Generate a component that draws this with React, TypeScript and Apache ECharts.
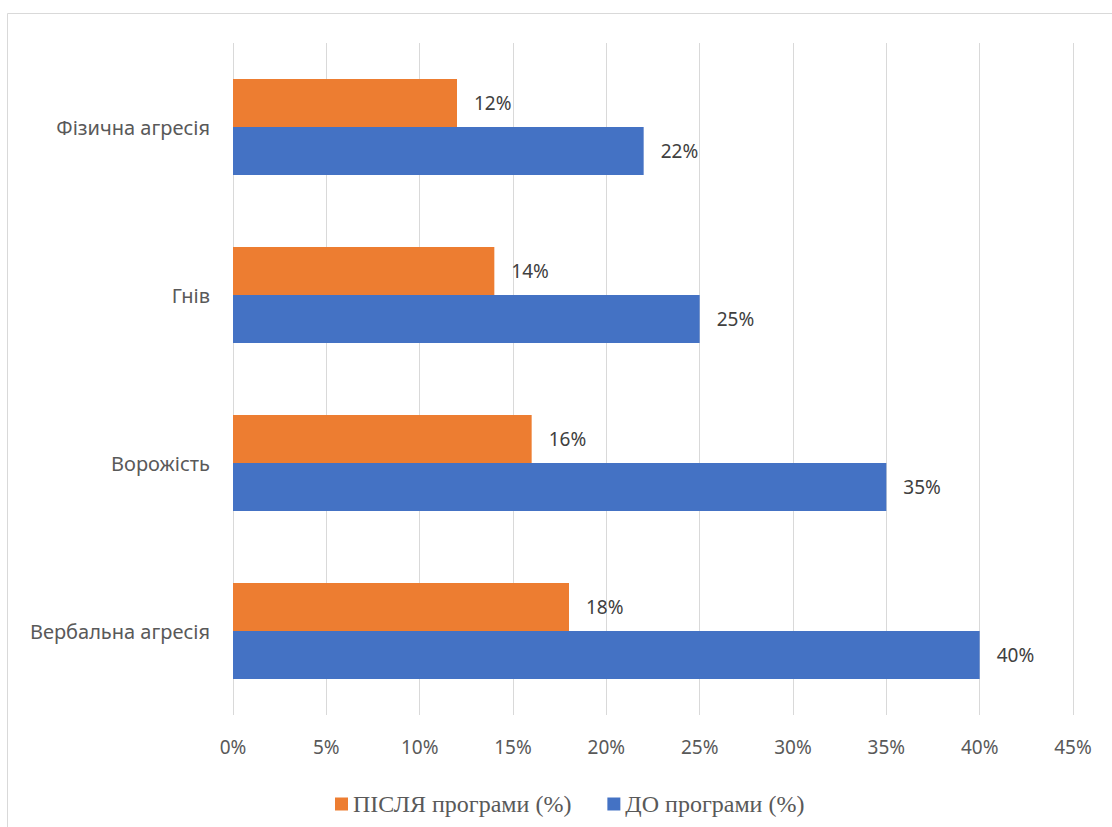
import React, { useEffect, useRef } from "react";
import * as echarts from "echarts";

const categories = ["Вербальна агресія", "Ворожість", "Гнів", "Фізична агресія"];
const beforeValues = [40, 35, 25, 22];
const afterValues = [18, 16, 14, 12];
const beforeName = "ДО програми (%)";
const afterName = "ПІСЛЯ програми (%)";
const xTicks = { min: 0, max: 45, interval: 5 };

export default function App() {
  const ref = useRef<HTMLDivElement>(null);
  useEffect(() => {
    if (!ref.current) return;
    const chart = echarts.init(ref.current, null, { renderer: "svg" });
    const sans = "Noto Sans";
    const label = {
      show: true,
      position: "right",
      distance: 17,
      formatter: "{c}%",
      fontFamily: sans,
      fontSize: 19,
      color: "#404040",
    };
    chart.setOption({
      animation: false,
      backgroundColor: "#ffffff",
      graphic: [
        {
          type: "rect",
          shape: { x: 7.5, y: 13.5, width: 1200, height: 900 },
          style: { fill: "none", stroke: "#d9d9d9", lineWidth: 1 },
          silent: true,
        },
      ],
      grid: { left: 233, right: 39, top: 43, bottom: 112, containLabel: false },
      legend: {
        data: [afterName, beforeName],
        left: 330,
        top: 787,
        itemWidth: 13,
        itemHeight: 13,
        itemGap: 36,
        icon: "rect",
        textStyle: { fontFamily: "Liberation Serif", fontSize: 24, color: "#595959" },
      },
      xAxis: {
        type: "value",
        min: xTicks.min,
        max: xTicks.max,
        interval: xTicks.interval,
        axisLine: { show: false },
        axisTick: { show: false },
        splitLine: { show: true, lineStyle: { color: "#d9d9d9", width: 1 } },
        axisLabel: {
          formatter: "{value}%",
          fontFamily: sans,
          fontSize: 19,
          color: "#595959",
          margin: 22,
        },
      },
      yAxis: {
        type: "category",
        data: categories,
        axisLine: { show: false },
        axisTick: { show: false },
        splitLine: { show: false },
        axisLabel: { fontFamily: sans, fontSize: 20, color: "#595959", margin: 23 },
      },
      series: [
        {
          name: afterName,
          type: "bar",
          data: afterValues,
          itemStyle: { color: "#ed7d31" },
          barGap: "0%",
          barCategoryGap: "43%",
          label,
        },
        {
          name: beforeName,
          type: "bar",
          data: beforeValues,
          itemStyle: { color: "#4472c4" },
          barGap: "0%",
          barCategoryGap: "43%",
          label,
        },
      ],
    });
    return () => chart.dispose();
  }, []);
  return <div ref={ref} style={{ width: 1112, height: 827, position: "absolute", left: 0, top: 0 }} />;
}
